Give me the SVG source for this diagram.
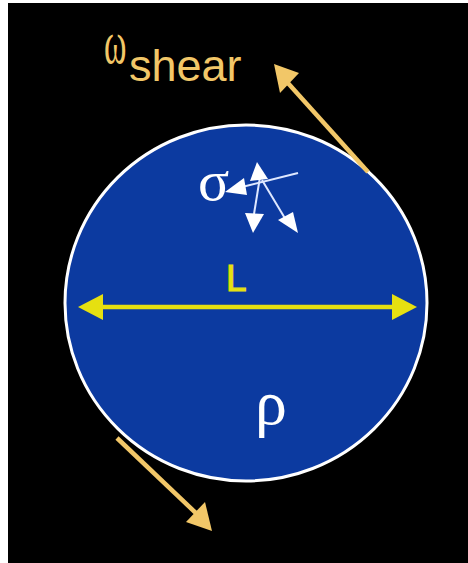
<svg xmlns="http://www.w3.org/2000/svg" width="468" height="563" viewBox="0 0 468 563">
<defs>
<style>
.gold{stroke:#f2c768;stroke-width:4.5;fill:none}
.yel{stroke:#e6e010;stroke-width:4.5;fill:none}
.wl{stroke:#dfe8ff;stroke-width:2;fill:none}
.serif{font-family:"Liberation Serif","DejaVu Serif",serif;fill:#ffffff}
.sans{font-family:"Liberation Sans",Arial,sans-serif}
</style>
</defs>
<rect x="0" y="0" width="468" height="563" fill="#ffffff"/>
<rect x="8" y="3" width="460" height="560" fill="#000000"/>
<g id="sphere">
<ellipse cx="246" cy="303" rx="181" ry="178" fill="#0c3aa0" stroke="#ffffff" stroke-width="3"/>
</g>
<g id="connectors">
<line class="gold" x1="368" y1="172" x2="287" y2="82"/>
<polygon points="274,64 299,73 280,93" fill="#f2c768"/>
<line class="gold" x1="117" y1="438" x2="199" y2="516"/>
<polygon points="212,531 186,522 205,502" fill="#f2c768"/>
<line class="yel" x1="100" y1="307" x2="395" y2="307"/>
<polygon points="78,307 103,294 103,320" fill="#e6e010"/>
<polygon points="417,307 392,294 392,320" fill="#e6e010"/>
<line class="wl" x1="298" y1="173" x2="242" y2="187"/>
<polygon points="225,192 244,178 247,195" fill="#ffffff"/>
<line class="wl" x1="260" y1="177" x2="254" y2="214"/>
<polygon points="257,162 268,179 250,181" fill="#ffffff"/>
<polygon points="253,233 245,213 264,214" fill="#ffffff"/>
<line class="wl" x1="262" y1="180" x2="286" y2="220"/>
<polygon points="298,233 278,220 293,212" fill="#ffffff"/>
</g>
<g id="labels">
<text class="serif" transform="translate(104,63) scale(0.55,1)" font-size="62" style="fill:#f2c768">ω</text>
<text class="sans" x="129" y="81" font-size="45" fill="#f2c768">shear</text>
<text class="sans" x="226" y="291" font-size="37" fill="#e6e010" stroke="#e6e010" stroke-width="1.2">L</text>
<text class="serif" x="198" y="200" font-size="58">σ</text>
<text class="serif" x="255" y="424" font-size="64">ρ</text>
</g>
</svg>
